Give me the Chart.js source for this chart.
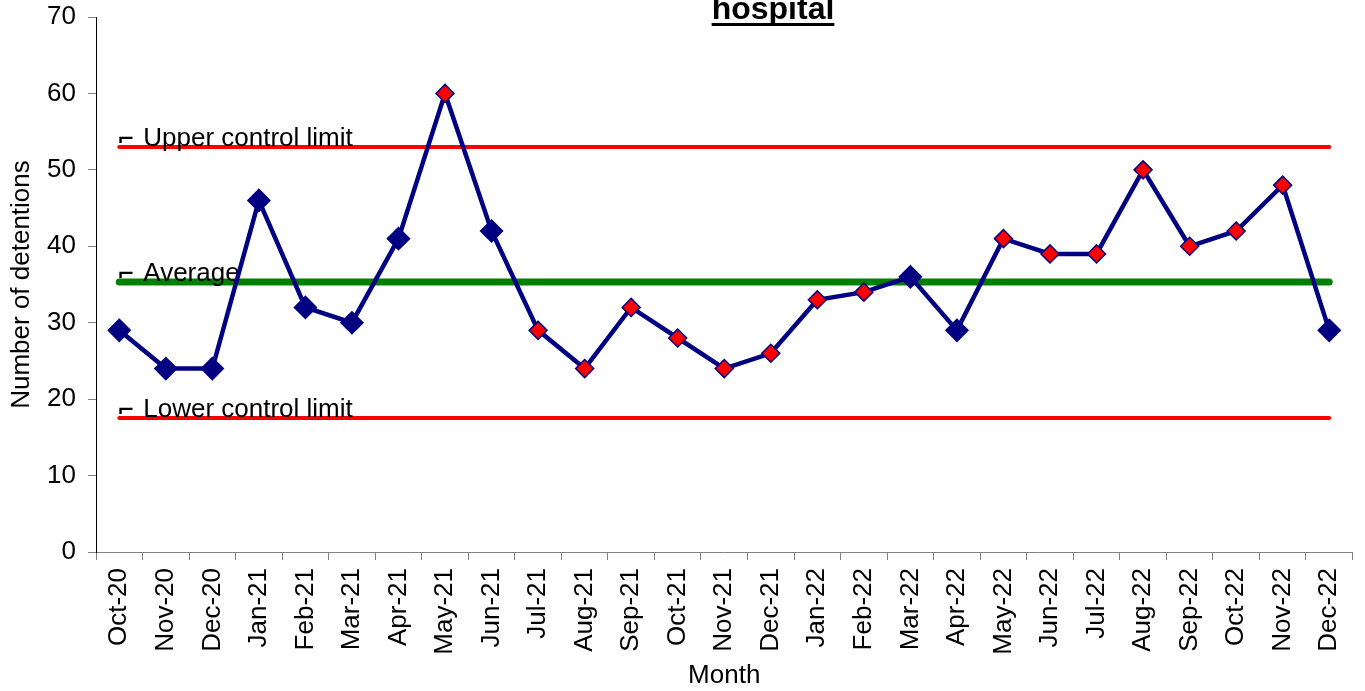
<!DOCTYPE html>
<html>
<head>
<meta charset="utf-8">
<script src="https://cdn.jsdelivr.net/npm/chart.js@4.4.1/dist/chart.umd.min.js"></script>
<style>
html,body{margin:0;padding:0;background:#fff;}
#wrap{width:1365px;height:691px;position:relative;}
</style>
</head>
<body>
<div id="wrap"><canvas id="c" width="1365" height="691"></canvas></div>
<script>
const months = ["Oct-20","Nov-20","Dec-20","Jan-21","Feb-21","Mar-21","Apr-21","May-21","Jun-21","Jul-21","Aug-21","Sep-21","Oct-21","Nov-21","Dec-21","Jan-22","Feb-22","Mar-22","Apr-22","May-22","Jun-22","Jul-22","Aug-22","Sep-22","Oct-22","Nov-22","Dec-22"];
const detentions = [29,24,24,46,32,30,41,60,42,29,24,32,28,24,26,33,34,36,29,41,39,39,50,40,42,48,29];
const upperControlLimit = 53;
const average = 35.3;
const lowerControlLimit = 17.5;
const yTicks = [0,10,20,30,40,50,60,70];
const titleText = "hospital";

// special-cause flags: outside limits, or part of a run of 7+ on one side of the average
const flags = detentions.map(v => v > upperControlLimit || v < lowerControlLimit);
(function(){
  let start = 0;
  const side = v => v > average ? 1 : -1;
  for (let i = 1; i <= detentions.length; i++) {
    if (i === detentions.length || side(detentions[i]) !== side(detentions[start])) {
      if (i - start >= 7) for (let k = start; k < i; k++) flags[k] = true;
      start = i;
    }
  }
})();

const NAVY = '#000080';
const FONT = "'Liberation Sans', Arial, sans-serif";

const limitsPlugin = {
  id: 'limits',
  beforeDatasetsDraw(chart) {
    const {ctx, scales: {x, y}} = chart;
    const x0 = x.getPixelForValue(0);
    const x1 = x.getPixelForValue(months.length - 1);
    const lines = [
      {v: upperControlLimit, c: '#ff0000', w: 4, label: 'Upper control limit'},
      {v: average, c: '#008000', w: 7, label: 'Average'},
      {v: lowerControlLimit, c: '#ff0000', w: 4, label: 'Lower control limit'}
    ];
    ctx.save();
    ctx.lineCap = 'round';
    lines.forEach(l => {
      const py = Math.round(y.getPixelForValue(l.v));
      ctx.strokeStyle = l.c;
      ctx.lineWidth = l.w;
      ctx.beginPath();
      ctx.moveTo(x0, py);
      ctx.lineTo(x1, py);
      ctx.stroke();
    });
    ctx.fillStyle = '#000';
    ctx.textBaseline = 'alphabetic';
    lines.forEach(l => {
      const py = Math.round(y.getPixelForValue(l.v));
      ctx.font = "bold 21px 'DejaVu Sans'";
      ctx.fillText('\u2310', x0 - 2, py - 1);
      ctx.font = '26px ' + FONT;
      ctx.fillText(l.label, x0 + 24, py - 1);
    });
    ctx.restore();
  }
};

const titlePlugin = {
  id: 'topTitle',
  afterDraw(chart) {
    const {ctx} = chart;
    ctx.save();
    ctx.font = 'bold 32px ' + FONT;
    ctx.fillStyle = '#000';
    ctx.textAlign = 'center';
    ctx.textBaseline = 'alphabetic';
    const cx = 773;
    ctx.fillText(titleText, cx, 19);
    const w = ctx.measureText(titleText).width;
    ctx.fillRect(cx - w / 2, 23, w, 3);
    ctx.restore();
  }
};

new Chart(document.getElementById('c'), {
  type: 'line',
  data: {
    labels: months,
    datasets: [{
      data: detentions,
      borderColor: NAVY,
      borderWidth: 4.5,
      tension: 0,
      pointStyle: 'rectRot',
      pointRadius: detentions.map((v, i) => flags[i] ? 9 : 11),
      pointBackgroundColor: detentions.map((v, i) => flags[i] ? '#ff0000' : NAVY),
      pointBorderColor: NAVY,
      pointBorderWidth: 1.5,
      fill: false
    }]
  },
  options: {
    responsive: false,
    animation: false,
    devicePixelRatio: 1,
    layout: {padding: {left: 0, right: 5, top: 17, bottom: 0}},
    plugins: {legend: {display: false}, tooltip: {enabled: false}, title: {display: false}},
    scales: {
      x: {
        type: 'category',
        offset: true,
        grid: {display: true, drawOnChartArea: false, drawTicks: true, tickLength: 8, color: '#808080', offset: true},
        border: {display: true, color: '#808080', width: 1},
        ticks: {color: '#000', font: {family: FONT, size: 26}, minRotation: 90, maxRotation: 90, padding: 8, autoSkip: false},
        title: {display: true, text: 'Month', color: '#000', font: {family: FONT, size: 26}, padding: {top: 0, bottom: 0}},
        afterFit(s) { s.height = 139; s.paddingLeft = 0; s.paddingRight = 0; s.paddingTop = 0; s.paddingBottom = 0; }
      },
      y: {
        min: 0, max: 70,
        afterBuildTicks(s) { s.ticks = yTicks.map(v => ({value: v})); },
        grid: {display: true, drawOnChartArea: false, drawTicks: true, tickLength: 8, color: '#808080'},
        border: {display: true, color: '#000', width: 1},
        ticks: {color: '#000', font: {family: FONT, size: 26}, padding: 12},
        title: {display: true, text: 'Number of detentions', color: '#000', font: {family: FONT, size: 26}, padding: {top: 6, bottom: 0}},
        afterFit(s) { s.width = 96; s.paddingLeft = 0; s.paddingRight = 0; s.paddingTop = 0; s.paddingBottom = 0; }
      }
    }
  },
  plugins: [limitsPlugin, titlePlugin]
});
</script>
</body>
</html>
